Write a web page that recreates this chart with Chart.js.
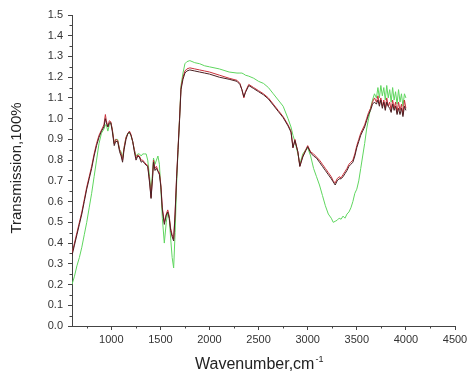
<!DOCTYPE html>
<html>
<head>
<meta charset="utf-8">
<script src="https://cdn.jsdelivr.net/npm/chart.js@4"></script>
<style>
  html, body { margin: 0; padding: 0; background: #fff; }
  #wrap { width: 471px; height: 376px; }
</style>
</head>
<body>
<div id="wrap"><canvas id="myChart" width="471" height="376"></canvas></div>
<script>
// FTIR spectra, wavenumber (cm-1) vs transmission
var wavenumbers = [600, 625, 650, 675, 700, 725, 750, 775, 800, 825, 850, 875, 900, 925, 940, 950, 965, 980, 995,
    1010, 1030, 1045, 1065, 1085, 1100, 1115, 1130, 1150, 1170, 1185, 1200, 1218, 1235, 1252, 1270, 1286, 1305,
    1320, 1337, 1355, 1371, 1390, 1405, 1420, 1430, 1445, 1460, 1475, 1490, 1505, 1520, 1540, 1560, 1575, 1590,
    1605, 1620, 1635, 1650, 1665, 1680, 1695, 1710, 1730, 1750, 1770, 1800, 1850, 1900, 1950, 2000, 2100, 2200,
    2280, 2310, 2330, 2350, 2365, 2400, 2450, 2500, 2550, 2600, 2650, 2700, 2750, 2800, 2830, 2850, 2870, 2900,
    2920, 2950, 2980, 3000, 3030, 3060, 3090, 3120, 3150, 3180, 3210, 3240, 3260, 3280, 3300, 3320, 3340, 3360,
    3380, 3400, 3420, 3440, 3460, 3480, 3500, 3520, 3540, 3560, 3580, 3600, 3620, 3640, 3660, 3680, 3700, 3715,
    3730, 3745, 3760, 3775, 3790, 3805, 3820, 3835, 3850, 3865, 3880, 3895, 3910, 3925, 3940, 3955, 3970, 3985, 4000];

var redSample = [0.35, 0.40, 0.45, 0.50, 0.55, 0.61, 0.67, 0.72, 0.77, 0.83, 0.88, 0.92, 0.945, 0.97, 1.02, 0.99, 0.96, 0.99, 0.985,
    0.95, 0.88, 0.90, 0.895, 0.85, 0.83, 0.80, 0.86, 0.91, 0.93, 0.94, 0.925, 0.89, 0.85, 0.81, 0.825, 0.82, 0.80,
    0.80, 0.79, 0.78, 0.775, 0.70, 0.62, 0.72, 0.80, 0.76, 0.77, 0.75, 0.74, 0.68, 0.57, 0.50, 0.54, 0.56, 0.53,
    0.47, 0.44, 0.42, 0.55, 0.72, 0.86, 1.00, 1.15, 1.20, 1.23, 1.24, 1.245, 1.24, 1.235, 1.23, 1.225, 1.21, 1.195,
    1.185, 1.17, 1.14, 1.10, 1.13, 1.165, 1.15, 1.135, 1.12, 1.10, 1.07, 1.04, 1.01, 0.97, 0.94, 0.86, 0.90, 0.84,
    0.77, 0.82, 0.85, 0.87, 0.84, 0.83, 0.815, 0.80, 0.78, 0.76, 0.74, 0.72, 0.70, 0.69, 0.71, 0.72, 0.715, 0.73,
    0.745, 0.76, 0.78, 0.79, 0.80, 0.83, 0.87, 0.90, 0.93, 0.95, 0.97, 1.00, 1.03, 1.05, 1.08, 1.10, 1.08, 1.11,
    1.07, 1.10, 1.06, 1.09, 1.05, 1.10, 1.06, 1.08, 1.04, 1.09, 1.05, 1.08, 1.03, 1.08, 1.04, 1.07, 1.02, 1.09, 1.05];

var darkSample = [0.34, 0.39, 0.44, 0.49, 0.54, 0.60, 0.66, 0.71, 0.76, 0.82, 0.87, 0.91, 0.94, 0.96, 1.00, 0.98, 0.96, 0.98, 0.98,
    0.94, 0.87, 0.89, 0.89, 0.84, 0.82, 0.79, 0.85, 0.90, 0.93, 0.935, 0.92, 0.89, 0.84, 0.80, 0.82, 0.815, 0.79,
    0.795, 0.785, 0.775, 0.77, 0.69, 0.615, 0.71, 0.79, 0.75, 0.76, 0.745, 0.73, 0.67, 0.56, 0.49, 0.535, 0.55, 0.52,
    0.46, 0.43, 0.41, 0.54, 0.71, 0.85, 0.99, 1.14, 1.19, 1.22, 1.23, 1.235, 1.23, 1.225, 1.22, 1.215, 1.20, 1.19,
    1.18, 1.165, 1.14, 1.105, 1.125, 1.16, 1.145, 1.13, 1.115, 1.095, 1.065, 1.035, 1.005, 0.965, 0.935, 0.86, 0.895, 0.84,
    0.77, 0.815, 0.845, 0.865, 0.835, 0.82, 0.81, 0.79, 0.77, 0.75, 0.73, 0.71, 0.695, 0.68, 0.70, 0.71, 0.71, 0.72,
    0.735, 0.75, 0.77, 0.78, 0.79, 0.82, 0.86, 0.89, 0.92, 0.94, 0.96, 0.99, 1.02, 1.04, 1.07, 1.08, 1.07, 1.09,
    1.06, 1.09, 1.05, 1.08, 1.04, 1.08, 1.06, 1.05, 1.03, 1.07, 1.04, 1.06, 1.02, 1.05, 1.02, 1.05, 1.01, 1.06, 1.04];

var greenSample = [0.20, 0.24, 0.29, 0.33, 0.38, 0.44, 0.50, 0.57, 0.64, 0.72, 0.80, 0.88, 0.93, 0.95, 0.97, 0.97, 0.94, 0.97, 0.98,
    0.95, 0.88, 0.90, 0.90, 0.85, 0.84, 0.81, 0.86, 0.91, 0.93, 0.93, 0.92, 0.89, 0.85, 0.82, 0.83, 0.83, 0.82,
    0.83, 0.83, 0.83, 0.80, 0.72, 0.65, 0.74, 0.81, 0.78, 0.80, 0.82, 0.78, 0.66, 0.52, 0.40, 0.50, 0.55, 0.52,
    0.42, 0.33, 0.28, 0.45, 0.68, 0.85, 1.00, 1.16, 1.22, 1.265, 1.275, 1.28, 1.27, 1.265, 1.255, 1.25, 1.24, 1.225,
    1.22, 1.22, 1.22, 1.215, 1.21, 1.205, 1.195, 1.18, 1.17, 1.15, 1.12, 1.09, 1.06, 1.00, 0.96, 0.92, 0.89, 0.83,
    0.78, 0.83, 0.85, 0.86, 0.82, 0.76, 0.72, 0.68, 0.63, 0.58, 0.54, 0.52, 0.50, 0.505, 0.51, 0.52, 0.515, 0.53,
    0.52, 0.54, 0.55, 0.57, 0.60, 0.64, 0.66, 0.70, 0.76, 0.82, 0.88, 0.95, 1.00, 1.05, 1.09, 1.12, 1.10, 1.15,
    1.10, 1.16, 1.11, 1.15, 1.09, 1.16, 1.10, 1.14, 1.08, 1.15, 1.09, 1.13, 1.07, 1.14, 1.08, 1.12, 1.06, 1.12, 1.10];

var xTicks = [1000, 1500, 2000, 2500, 3000, 3500, 4000, 4500];
var xMinor = [750, 1250, 1750, 2250, 2750, 3250, 3750, 4250];

function points(values) {
    return wavenumbers.map(function(w, i) { return { x: w, y: values[i] }; });
}

function series(values, color) {
    return {
        data: points(values),
        borderColor: color,
        borderWidth: 1,
        pointRadius: 0,
        tension: 0,
        fill: false
    };
}

// minor ticks and axis titles (the x title carries a superscript)
var axisExtras = {
    id: 'axisExtras',
    afterDraw: function(chart) {
        var ctx = chart.ctx;
        var xs = chart.scales.x, ys = chart.scales.y;
        var area = chart.chartArea;
        ctx.save();
        ctx.strokeStyle = '#444';
        ctx.lineWidth = 1;
        ctx.beginPath();
        xMinor.forEach(function(v) {
            var px = Math.round(xs.getPixelForValue(v)) + 0.5;
            ctx.moveTo(px, area.bottom);
            ctx.lineTo(px, area.bottom + 2.5);
        });
        for (var k = 0; k < 15; k++) {
            var py = Math.round(ys.getPixelForValue(k * 0.1 + 0.05)) + 0.5;
            ctx.moveTo(area.left, py);
            ctx.lineTo(area.left - 2.5, py);
        }
        ctx.stroke();

        ctx.fillStyle = '#222';
        ctx.font = '16px "Liberation Sans", Arial, sans-serif';
        ctx.textBaseline = 'alphabetic';
        ctx.textAlign = 'left';
        var label = 'Wavenumber,cm';
        var w = ctx.measureText(label).width;
        var x0 = 195;
        ctx.fillText(label, x0, 369);
        ctx.font = '9px "Liberation Sans", Arial, sans-serif';
        ctx.fillText('-1', x0 + w + 1, 362);

        ctx.translate(17, 168);
        ctx.rotate(-Math.PI / 2);
        ctx.textAlign = 'center';
        ctx.textBaseline = 'middle';
        ctx.font = '15px "Liberation Sans", Arial, sans-serif';
        ctx.fillText('Transmission,100%', 0, 0);
        ctx.restore();
    }
};

var tickFont = { family: '"Liberation Sans", Arial, sans-serif', size: 11 };

var myChart = new Chart(document.getElementById('myChart'), {
    type: 'line',
    data: {
        datasets: [
            series(darkSample, '#4a1f22'),
            series(redSample, '#c8303a'),
            series(greenSample, '#5fd65f')
        ]
    },
    options: {
        responsive: false,
        animation: false,
        layout: { padding: { top: 15, right: 16, left: 0, bottom: 0 } },
        plugins: { legend: { display: false }, tooltip: { enabled: false } },
        scales: {
            x: {
                type: 'linear',
                min: 600,
                max: 4500,
                afterBuildTicks: function(scale) {
                    scale.ticks = xTicks.map(function(v) { return { value: v }; });
                },
                afterFit: function(scale) { scale.height = 50; },
                grid: { drawOnChartArea: false, tickLength: 4, color: '#444' },
                border: { color: '#444', width: 1 },
                ticks: {
                    color: '#333',
                    font: tickFont,
                    padding: 3,
                    maxRotation: 0,
                    callback: function(v) { return String(v); }
                }
            },
            y: {
                min: 0,
                max: 1.5,
                afterFit: function(scale) { scale.width = 72; },
                grid: { drawOnChartArea: false, tickLength: 4, color: '#444' },
                border: { color: '#444', width: 1 },
                ticks: {
                    stepSize: 0.1,
                    color: '#333',
                    font: tickFont,
                    padding: 5,
                    callback: function(v) { return v.toFixed(1); }
                }
            }
        }
    },
    plugins: [axisExtras]
});
</script>
</body>
</html>
